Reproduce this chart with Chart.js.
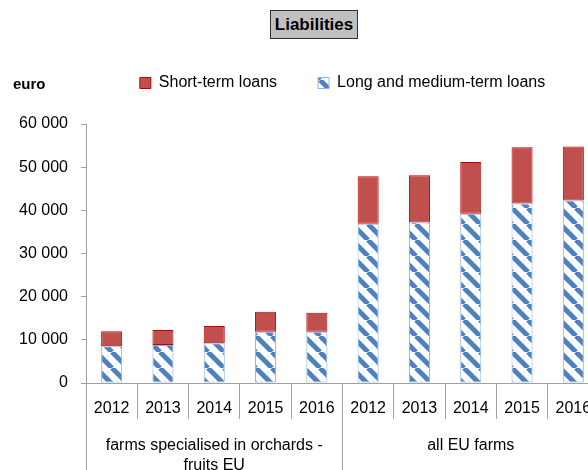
<!DOCTYPE html>
<html>
<head>
<meta charset="utf-8">
<title>Liabilities</title>
<script src="https://cdn.jsdelivr.net/npm/chart.js@4.4.1/dist/chart.umd.min.js"></script>
<style>
    html, body { margin: 0; padding: 0; background: #fff; overflow: hidden; }
    #wrap { position: relative; width: 588px; height: 470px; overflow: hidden; }
    #chart { position: absolute; left: 0; top: 0; }
    .title {
        position: absolute; left: 270px; top: 10px; width: 88px; height: 29px;
        box-sizing: border-box; border: 1px solid #333; background: #c0c0c0;
        font: bold 17px "Liberation Sans", Arial, sans-serif; color: #000;
        text-align: center; line-height: 27px;
    }
    .unit {
        position: absolute; left: 13px; top: 75px;
        font: bold 15px "Liberation Sans", Arial, sans-serif; color: #000; line-height: 18px;
    }
</style>
</head>
<body>
<div id="wrap">
    <canvas id="chart" width="600" height="470"></canvas>
    <div class="title">Liabilities</div>
    <div class="unit">euro</div>
</div>
<script>
const years = ['2012', '2013', '2014', '2015', '2016', '2012', '2013', '2014', '2015', '2016'];
const groups = [['farms specialised in orchards -', 'fruits EU'], 'all EU farms'];
const longTermLoans = [8500, 8800, 9200, 11900, 11850, 36900, 37200, 39200, 41600, 42300];
const shortTermLoans = [3500, 3500, 4000, 4600, 4400, 11000, 10900, 12000, 13000, 12500];
const yTicks = [0, 10000, 20000, 30000, 40000, 50000, 60000];

Chart.defaults.font.family = '"Liberation Sans", Arial, sans-serif';
Chart.defaults.font.size = 16;
Chart.defaults.color = '#000';

const axisGrey = '#a0a0a0';

// diagonal blue hatch used by the long-term series
function makeHatch() {
    const size = 16;
    const c = document.createElement('canvas');
    c.width = size;
    c.height = size;
    const g = c.getContext('2d');
    g.fillStyle = '#fff';
    g.fillRect(0, 0, size, size);
    g.strokeStyle = '#4f81bd';
    g.lineWidth = 5;
    [-size, 0, size].forEach(k => {
        g.beginPath();
        g.moveTo(k, 0);
        g.lineTo(k + size, size);
        g.stroke();
    });
    return g.createPattern(c, 'repeat');
}

function spaced(v) {
    return String(v).replace(/\B(?=(\d{3})+(?!\d))/g, ' ');
}

const ctx = document.getElementById('chart').getContext('2d');

new Chart(ctx, {
    type: 'bar',
    data: {
        labels: years,
        datasets: [{
            label: 'Long and medium-term loans',
            data: longTermLoans,
            xAxisID: 'x',
            yAxisID: 'y',
            backgroundColor: makeHatch(),
            borderColor: '#8db3e2',
            borderWidth: 1,
            borderSkipped: false
        }, {
            label: 'Short-term loans',
            data: shortTermLoans,
            xAxisID: 'x',
            yAxisID: 'y',
            backgroundColor: '#c0504d',
            borderColor: '#c00000',
            borderWidth: 1,
            borderSkipped: false
        }]
    },
    options: {
        responsive: false,
        animation: false,
        layout: { padding: { top: 34, right: 1, left: 0, bottom: 0 } },
        datasets: { bar: { barPercentage: 0.41, categoryPercentage: 1 } },
        plugins: {
            title: { display: false },
            tooltip: { enabled: false },
            legend: {
                position: 'top',
                fullSize: false,
                reverse: true,
                labels: {
                    boxWidth: 11,
                    boxHeight: 11,
                    padding: 41,
                    color: '#000',
                    font: { size: 16 }
                }
            }
        },
        scales: {
            x: {
                stacked: true,
                position: 'bottom',
                offset: true,
                grid: { offset: true, drawOnChartArea: false, tickLength: 36, color: axisGrey },
                border: { color: axisGrey },
                ticks: { maxRotation: 0, autoSkip: false, padding: -20, font: { size: 16 } },
                afterFit: s => { s.height = 36; }
            },
            x2: {
                type: 'category',
                position: 'bottom',
                labels: groups,
                offset: true,
                grid: { offset: true, drawOnChartArea: false, tickLength: 51, color: axisGrey },
                border: { display: false },
                ticks: { maxRotation: 0, autoSkip: false, padding: -34, font: { size: 16, lineHeight: 1.25 } },
                afterFit: s => { s.height = 51; }
            },
            gap: {
                type: 'category',
                position: 'top',
                labels: [''],
                grid: { display: false },
                border: { display: false },
                ticks: { display: false },
                afterFit: s => { s.height = 23; }
            },
            y: {
                stacked: true,
                min: 0,
                max: 60000,
                afterBuildTicks: s => { s.ticks = yTicks.map(v => ({ value: v })); },
                grid: { drawOnChartArea: false, tickLength: 5, color: axisGrey },
                border: { color: axisGrey },
                ticks: { padding: 13, font: { size: 16 }, callback: v => spaced(v) },
                afterFit: s => { s.width = 86; }
            }
        }
    }
});
</script>
</body>
</html>
